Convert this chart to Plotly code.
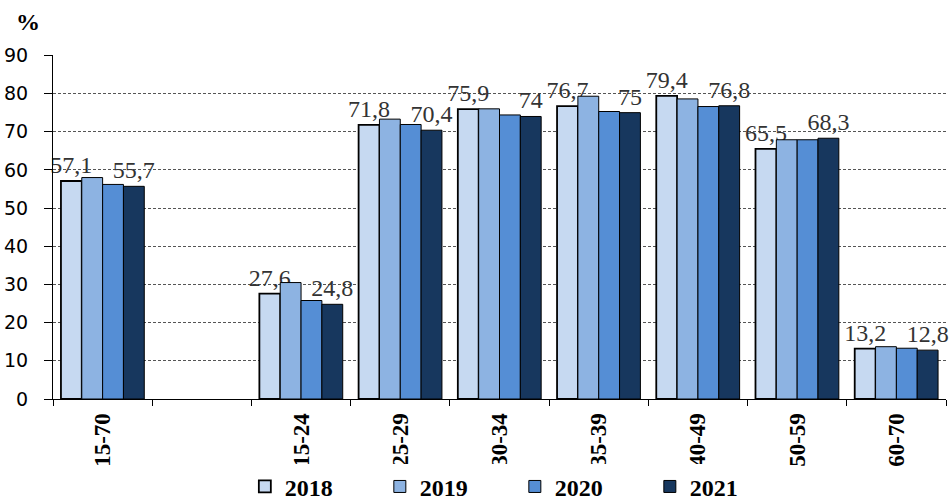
import plotly.graph_objects as go

categories = ["15-70", " ", "15-24", "25-29", "30-34", "35-39", "40-49", "50-59", "60-70"]
years = ["2018", "2019", "2020", "2021"]
v2018 = [57.1, None, 27.6, 71.8, 75.9, 76.7, 79.4, 65.5, 13.2]
v2019 = [58.0, None, 30.5, 73.3, 76.0, 79.3, 78.6, 67.9, 13.7]
v2020 = [56.2, None, 25.8, 71.9, 74.4, 75.3, 76.6, 67.9, 13.3]
v2021 = [55.7, None, 24.8, 70.4, 74.0, 75.0, 76.8, 68.3, 12.8]
colors = ["#C6D9F1", "#8DB3E2", "#558ED5", "#17375E"]
edge_widths = [1.8, 1, 1, 1]
series = [v2018, v2019, v2020, v2021]
labelled = {"2018", "2021"}

def fmt(v):
    if v is None:
        return ""
    return ("%g" % v).replace(".", ",")

fig = go.Figure()
for name, vals, col, lw in zip(years, series, colors, edge_widths):
    texts = [fmt(v) for v in vals] if name in labelled else None
    fig.add_trace(go.Bar(
        x=categories, y=vals, name=name,
        marker=dict(color=col, line=dict(color="#000000", width=lw)),
        text=texts, textposition="outside" if texts else "none",
        textfont=dict(family="Liberation Serif", size=24, color="#333333"),
        constraintext="none", cliponaxis=False,
    ))

fig.update_layout(
    width=949, height=501,
    barmode="group", bargap=0.16, bargroupgap=0,
    plot_bgcolor="white", paper_bgcolor="white",
    margin=dict(l=53, r=3, t=55, b=102, autoexpand=False),
    xaxis=dict(
        type="category", showline=True, linecolor="black", linewidth=1,
        ticks="outside", tickson="boundaries", ticklen=6, tickcolor="black",
        tickangle=-90, automargin=False, ticklabelstandoff=4,
        tickfont=dict(family="Liberation Serif", size=23, color="black", weight="bold"),
        showgrid=False,
    ),
    yaxis=dict(
        range=[0, 90.1], tickvals=[0, 10, 20, 30, 40, 50, 60, 70, 80, 90],
        showline=True, linecolor="black", linewidth=1,
        ticks="outside", ticklen=8, tickcolor="black", automargin=False,
        ticklabelstandoff=12,
        tickfont=dict(family="DejaVu Sans", size=19, color="black"),
        showgrid=True, gridcolor="#555555", gridwidth=1, griddash="3px,2px",
        zeroline=False,
    ),
    legend=dict(
        orientation="h", xref="container", yref="paper",
        x=0.258, xanchor="left", y=-0.19, yanchor="top",
        font=dict(family="Liberation Serif", size=24, color="black", weight="bold"),
        entrywidth=90, entrywidthmode="pixels", traceorder="normal",
    ),
    annotations=[dict(
        text="<b>%</b>", xref="paper", yref="paper", x=-0.028, y=1.096,
        xanchor="center", yanchor="middle", showarrow=False,
        font=dict(family="Liberation Serif", size=24, color="black"),
    )],
)
fig.write_html("out.html", config={"displayModeBar": False},
               post_script="document.body.style.margin='0';")
